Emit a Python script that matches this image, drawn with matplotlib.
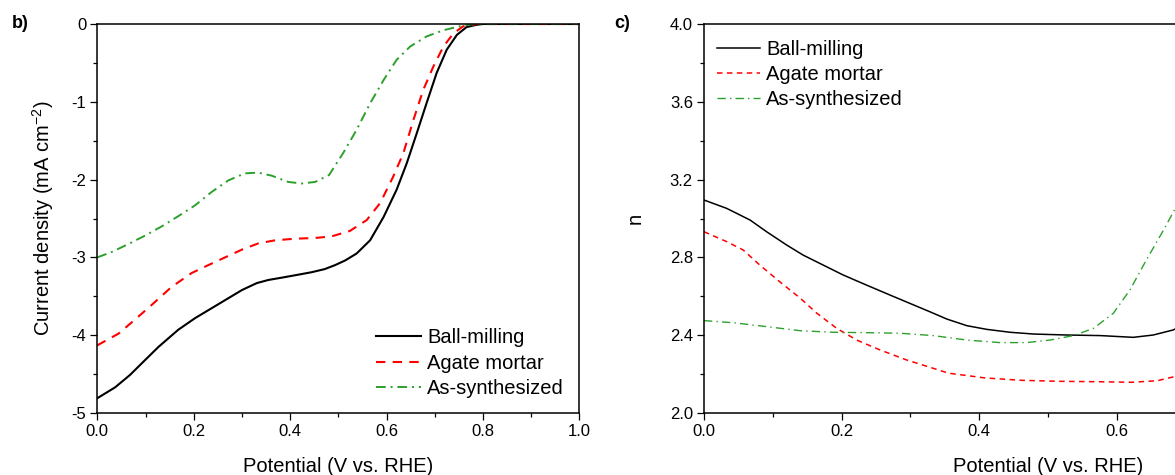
import numpy as np
import matplotlib
matplotlib.use("Agg")
from matplotlib import pyplot as plt
from matplotlib.ticker import MultipleLocator, FixedLocator, FormatStrFormatter

plt.rcParams['font.family'] = ['Liberation Sans', 'DejaVu Sans']
plt.rcParams['axes.unicode_minus'] = False
plt.rcParams['mathtext.fontset'] = 'custom'
plt.rcParams['mathtext.rm'] = 'Liberation Sans'

labels = ['Ball-milling', 'Agate mortar', 'As-synthesized']

# panel b: LSV curves, current density (mA cm-2) vs potential (V vs. RHE)
ball_x = [0.0, 0.037, 0.068, 0.099, 0.127, 0.168, 0.203, 0.230, 0.265, 0.300, 0.331,
          0.355, 0.383, 0.41, 0.445, 0.472, 0.493, 0.514, 0.538, 0.566, 0.594, 0.621,
          0.642, 0.663, 0.683, 0.704, 0.725, 0.746, 0.766, 0.787, 0.8, 0.9, 1.0]
ball_j = [-4.81, -4.67, -4.51, -4.32, -4.15, -3.93, -3.78, -3.68, -3.55, -3.42, -3.33,
          -3.29, -3.26, -3.23, -3.19, -3.15, -3.10, -3.04, -2.95, -2.78, -2.48, -2.13,
          -1.79, -1.40, -1.02, -0.63, -0.33, -0.14, -0.04, -0.01, 0.0, 0.0, 0.0]

agate_x = [0.0, 0.044, 0.078, 0.113, 0.154, 0.196, 0.230, 0.265, 0.300, 0.334, 0.369,
           0.41, 0.452, 0.486, 0.524, 0.559, 0.587, 0.614, 0.635, 0.656, 0.676, 0.697,
           0.718, 0.739, 0.759, 0.787, 0.9, 1.0]
agate_j = [-4.13, -3.98, -3.80, -3.61, -3.38, -3.20, -3.10, -3.00, -2.90, -2.82, -2.78,
           -2.76, -2.75, -2.73, -2.66, -2.52, -2.30, -1.96, -1.66, -1.23, -0.85, -0.55,
           -0.29, -0.12, -0.03, 0.0, 0.0, 0.0]

asyn_x = [0.0, 0.030, 0.064, 0.099, 0.134, 0.168, 0.203, 0.237, 0.272, 0.306, 0.334,
          0.362, 0.396, 0.424, 0.452, 0.481, 0.510, 0.538, 0.566, 0.594, 0.621, 0.649,
          0.683, 0.718, 0.752, 0.780, 0.9, 1.0]
asyn_j = [-3.00, -2.93, -2.83, -2.72, -2.60, -2.47, -2.33, -2.16, -2.01, -1.92, -1.91,
          -1.95, -2.03, -2.05, -2.03, -1.94, -1.66, -1.36, -1.02, -0.72, -0.46, -0.29,
          -0.16, -0.08, -0.03, 0.0, 0.0, 0.0]

# panel c: electron transfer number n vs potential (only up to ~0.69 V is visible)
n_ball_x = [0.0, 0.033, 0.067, 0.091, 0.120, 0.144, 0.173, 0.202, 0.236, 0.270, 0.299,
            0.328, 0.353, 0.382, 0.411, 0.445, 0.479, 0.527, 0.576, 0.624, 0.653, 0.682,
            0.70, 0.72]
n_ball = [3.095, 3.052, 2.992, 2.932, 2.864, 2.812, 2.761, 2.710, 2.658, 2.607, 2.564,
          2.521, 2.483, 2.449, 2.430, 2.415, 2.406, 2.401, 2.398, 2.389, 2.401, 2.427,
          2.46, 2.50]

n_agate_x = [0.0, 0.033, 0.057, 0.081, 0.110, 0.140, 0.164, 0.193, 0.222, 0.256, 0.295,
             0.333, 0.355, 0.409, 0.462, 0.515, 0.569, 0.622, 0.659, 0.685, 0.70, 0.72]
n_agate = [2.932, 2.881, 2.838, 2.761, 2.675, 2.590, 2.513, 2.435, 2.375, 2.324, 2.272,
           2.230, 2.205, 2.180, 2.168, 2.163, 2.161, 2.158, 2.166, 2.188, 2.21, 2.24]

n_asyn_x = [0.0, 0.043, 0.091, 0.140, 0.188, 0.236, 0.285, 0.333, 0.382, 0.430, 0.469,
            0.503, 0.537, 0.566, 0.595, 0.619, 0.643, 0.668, 0.685, 0.70, 0.72]
n_asyn = [2.475, 2.464, 2.444, 2.423, 2.415, 2.413, 2.410, 2.398, 2.375, 2.362, 2.362,
          2.375, 2.398, 2.435, 2.513, 2.632, 2.787, 2.941, 3.052, 3.15, 3.28]

colors = ['black', 'red', '#2ca02c']

fig = plt.figure(figsize=(11.75, 4.75), dpi=100)
ax1 = fig.add_axes([97.3 / 1175, 1 - 413 / 475, 482 / 1175, 389 / 475])
# right panel runs past the figure edge, as in the original crop
ax2 = fig.add_axes([704 / 1175, 1 - 413 / 475, 688 / 1175, 389 / 475])


def style_axis(ax):
    ax.tick_params(which='major', direction='out', length=5, width=0.9, labelsize=12,
                   top=False, right=False, pad=3)
    ax.tick_params(which='minor', direction='out', length=2.6, width=0.9, top=False, right=False)
    for s in ax.spines.values():
        s.set_linewidth(1.1)


# panel b
ax1.plot(ball_x, ball_j, color=colors[0], lw=1.5, label=labels[0])
ax1.plot(agate_x, agate_j, color=colors[1], lw=1.5, ls=(0, (4.5, 3.5)), label=labels[1])
ax1.plot(asyn_x, asyn_j, color=colors[2], lw=1.4, ls=(0, (5, 2.5, 1, 2.5)), label=labels[2])
ax1.set_xlim(0, 1.0)
ax1.set_ylim(-5, 0)
ax1.xaxis.set_major_locator(MultipleLocator(0.2))
ax1.xaxis.set_minor_locator(MultipleLocator(0.1))
ax1.yaxis.set_major_locator(MultipleLocator(1))
ax1.yaxis.set_minor_locator(MultipleLocator(0.5))
ax1.xaxis.set_major_formatter(FormatStrFormatter('%.1f'))
ax1.yaxis.set_major_formatter(FormatStrFormatter('%d'))
ax1.set_xlabel('Potential (V vs. RHE)', fontsize=14.5, labelpad=13)
ax1.set_ylabel('Current density (mA cm$^{-2}$)', fontsize=14.5, labelpad=11)
style_axis(ax1)
ax1.legend(loc='upper left', bbox_to_anchor=(0.578, 0.218), frameon=False, fontsize=14.5,
           handlelength=2.25, handletextpad=0.3, labelspacing=0.32, borderpad=0,
           borderaxespad=0)

# panel c
ax2.plot(n_ball_x, n_ball, color=colors[0], lw=1.1, label=labels[0])
ax2.plot(n_agate_x, n_agate, color=colors[1], lw=1.1, ls=(0, (3.6, 2.9)), label=labels[1])
ax2.plot(n_asyn_x, n_asyn, color=colors[2], lw=1.0, ls=(0, (6, 3, 1, 3)), label=labels[2])
ax2.set_xlim(0, 1.0)
ax2.set_ylim(2.0, 4.0)
ax2.xaxis.set_major_locator(FixedLocator([0.0, 0.2, 0.4, 0.6]))
ax2.xaxis.set_minor_locator(FixedLocator([0.1, 0.3, 0.5]))
ax2.yaxis.set_major_locator(MultipleLocator(0.4))
ax2.yaxis.set_minor_locator(MultipleLocator(0.2))
ax2.xaxis.set_major_formatter(FormatStrFormatter('%.1f'))
ax2.yaxis.set_major_formatter(FormatStrFormatter('%.1f'))
ax2.set_xlabel('Potential (V vs. RHE)', fontsize=14.5, labelpad=13)
ax2.set_ylabel('n', fontsize=14.5, labelpad=18)
style_axis(ax2)
ax2.legend(loc='upper left', bbox_to_anchor=(0.019, 0.959), frameon=False, fontsize=14.5,
           handlelength=2.15, handletextpad=0.3, labelspacing=0.3, borderpad=0,
           borderaxespad=0)

fig.text(12 / 1175, 1 - 24 / 475, 'b)', fontsize=13, fontweight='bold', va='center')
fig.text(614 / 1175, 1 - 24 / 475, 'c)', fontsize=13, fontweight='bold', va='center')

fig.savefig('out.png', dpi=100)
